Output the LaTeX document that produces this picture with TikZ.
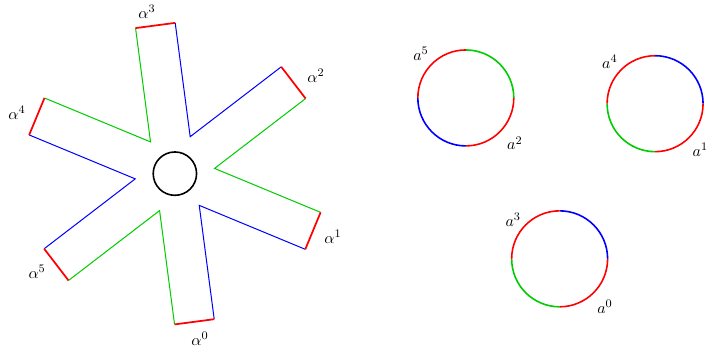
\documentclass[tikz,border=0pt]{standalone}
\usepackage{amsmath,amssymb}
\usetikzlibrary{calc}
\colorlet{armgreen}{green!80!black}
\tikzset{
  armside/.style={line width=0.7pt},
  armend/.style={red, line width=1.2pt},
  ring/.style={line width=1.1pt},
  lbl/.style={font=\fontsize{11}{13}\selectfont},
}

\begin{document}
\begin{tikzpicture}
    \useasboundingbox (0,0) rectangle (17.23,8.6);

    % Star: sides meeting at the hexagon vertices
    \coordinate (c) at (4.25,4.38);
    \foreach \j/\col in {0/armgreen,1/blue,2/armgreen,3/blue,4/armgreen,5/blue}{
        \pgfmathsetmacro\ph{7.5+60*\j}
        \coordinate (v\j) at ($(c)+(\ph:0.972)$);
        \draw[armside, \col] ($(v\j)+(\ph+30:2.79)$) -- (v\j) -- ($(v\j)+(\ph-30:2.79)$);
    }

    % Red outer ends of the arms
    \foreach \k in {0,...,5}{
        \pgfmathsetmacro\th{-82.5+60*\k}
        \draw[armend] ($(c)+(\th+30:0.972)+(\th:2.79)$) -- ($(c)+(\th-30:0.972)+(\th:2.79)$);
    }

    % Centre hole
    \draw[ring] (c) circle (0.527);

    % Arm labels
    \node[lbl] (al0) at (4.86,0.36) {$\alpha^0$};
    \node[lbl] (al1) at (8.09,2.84) {$\alpha^1$};
    \node[lbl] (al2) at (7.68,6.76) {$\alpha^2$};
    \node[lbl] (al3) at (3.57,8.31) {$\alpha^3$};
    \node[lbl] (al4) at (0.41,5.86) {$\alpha^4$};
    \node[lbl] (al5) at (0.90,1.99) {$\alpha^5$};

    % Three rings, one colour per quarter
    \coordinate (A) at (11.32,6.22);
    \coordinate (B) at (15.92,6.08);
    \coordinate (C) at (13.60,2.31);
    \foreach \p/\ca/\cb/\cc/\cd in {A/armgreen/red/blue/red, B/blue/red/armgreen/red, C/blue/red/armgreen/red}
        \foreach \col [count=\q from 0] in {\ca,\cb,\cc,\cd}{
            \pgfmathsetmacro\st{90*\q}
            \draw[ring, \col] (\p) ++(\st:1.166) arc[start angle=\st, delta angle=90, radius=1.166];
        }

    % Ring labels
    \node[lbl] (a5) at (10.23,7.29) {$a^5$};
    \node[lbl] (a2) at (12.51,5.12) {$a^2$};
    \node[lbl] (a4) at (14.82,7.10) {$a^4$};
    \node[lbl] (a1) at (17.02,4.96) {$a^1$};
    \node[lbl] (a3) at (12.47,3.26) {$a^3$};
    \node[lbl] (a0) at (14.70,1.15) {$a^0$};
\end{tikzpicture}
\end{document}
